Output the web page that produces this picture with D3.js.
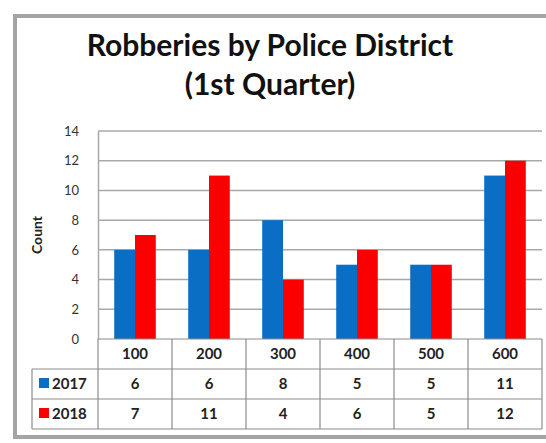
<!DOCTYPE html>
<html>
<head>
	<meta charset="utf-8">
	<title>Robberies by Police District</title>
	<script src="https://cdn.jsdelivr.net/npm/d3@7"></script>
	<style>
		body { margin: 0; background: #fff; }
		text { font-family: Lato, "Open Sans", sans-serif; }
	</style>
</head>
<body>
	<div id="chart"></div>
	<script>
	var districts = ["100", "200", "300", "400", "500", "600"];
	var years = ["2017", "2018"];
	var counts2017 = [6, 6, 8, 5, 5, 11];
	var counts2018 = [7, 11, 4, 6, 5, 12];
	var yTicks = [0, 2, 4, 6, 8, 10, 12, 14];
	var colors = ["#0a6ec4", "#fa0000"];

	var W = 546, H = 443;
	var plotL = 98, plotR = 542, plotT = 131, plotB = 339;
	var rowH = 30;

	var svg = d3.select("#chart").append("svg")
		.attr("width", W).attr("height", H);

	/* outer frame */
	svg.append("rect")
		.attr("x", 15).attr("y", 16).attr("width", 560).attr("height", 421)
		.attr("fill", "none").attr("stroke", "#a4a4a4").attr("stroke-width", 4);

	svg.append("text").attr("x", 270).attr("y", 56)
		.attr("text-anchor", "middle").attr("font-size", 30).attr("font-weight", "bold")
		.attr("fill", "#111").text("Robberies by Police District");
	svg.append("text").attr("x", 270).attr("y", 95)
		.attr("text-anchor", "middle").attr("font-size", 30).attr("font-weight", "bold")
		.attr("fill", "#111").text("(1st Quarter)");

	var x = d3.scaleBand().domain(districts).range([plotL, plotR]);
	var x1 = d3.scaleBand().domain(years).range([0, x.bandwidth()]).paddingInner(0).paddingOuter(0.78);
	var y = d3.scaleLinear().domain([0, 14]).range([plotB, plotT]);

	/* gridlines */
	svg.append("g").selectAll("line").data(yTicks.slice(1)).enter().append("line")
		.attr("x1", plotL).attr("x2", plotR)
		.attr("y1", function(d) { return y(d); }).attr("y2", function(d) { return y(d); })
		.attr("stroke", "#a8a8a8").attr("stroke-width", 1.5);

	var yAxis = svg.append("g").attr("transform", "translate(" + plotL + ",0)")
		.call(d3.axisLeft(y).tickValues(yTicks).tickSize(0).tickPadding(19));
	yAxis.select(".domain").attr("stroke", "#a8a8a8").attr("stroke-width", 1.5);
	yAxis.selectAll("text").attr("font-size", 13).attr("fill", "#333")
		.style("font-family", "Lato, sans-serif");

	svg.append("text").attr("transform", "translate(42,235) rotate(-90)")
		.attr("text-anchor", "middle").attr("font-size", 14).attr("font-weight", "bold")
		.attr("fill", "#222").text("Count");

	/* bars */
	var series = [counts2017, counts2018];
	series.forEach(function(vals, s) {
		svg.append("g").selectAll("rect").data(vals).enter().append("rect")
			.attr("x", function(d, i) { return x(districts[i]) + x1(years[s]); })
			.attr("width", x1.bandwidth())
			.attr("y", function(d) { return y(d); })
			.attr("height", function(d) { return y(0) - y(d); })
			.attr("fill", colors[s]);
	});

	/* data table */
	var tbl = svg.append("g");
	var lineC = "#8c8c8c";
	var tableLeft = 32;
	[0, 1, 2, 3].forEach(function(r) {
		tbl.append("line")
			.attr("x1", r === 0 ? plotL : tableLeft).attr("x2", plotR)
			.attr("y1", plotB + r * rowH).attr("y2", plotB + r * rowH)
			.attr("stroke", lineC).attr("stroke-width", 1.2);
	});
	districts.concat(["end"]).forEach(function(d, i) {
		var xx = i < districts.length ? x(d) : plotR;
		tbl.append("line").attr("x1", xx).attr("x2", xx)
			.attr("y1", plotB).attr("y2", plotB + 3 * rowH)
			.attr("stroke", lineC).attr("stroke-width", 1.2);
	});
	tbl.append("line").attr("x1", tableLeft).attr("x2", tableLeft)
		.attr("y1", plotB + rowH).attr("y2", plotB + 3 * rowH)
		.attr("stroke", lineC).attr("stroke-width", 1.2);

	tbl.selectAll("text.cat").data(districts).enter().append("text")
		.attr("x", function(d) { return x(d) + x.bandwidth() / 2; })
		.attr("y", plotB + rowH / 2 + 5)
		.attr("text-anchor", "middle").attr("font-size", 15).attr("font-weight", "bold")
		.attr("fill", "#222").text(function(d) { return d; });

	series.forEach(function(vals, s) {
		var cy = plotB + (s + 1) * rowH + rowH / 2 + 5;
		tbl.append("rect").attr("x", 39).attr("y", cy - 11).attr("width", 10).attr("height", 10)
			.attr("fill", colors[s]);
		tbl.append("text").attr("x", 52).attr("y", cy)
			.attr("font-size", 15).attr("font-weight", "bold").attr("fill", "#222").text(years[s]);
		tbl.append("g").selectAll("text").data(vals).enter().append("text")
			.attr("x", function(d, i) { return x(districts[i]) + x.bandwidth() / 2; })
			.attr("y", cy)
			.attr("text-anchor", "middle").attr("font-size", 15).attr("font-weight", "bold")
			.attr("fill", "#222").text(function(d) { return d; });
	});
	</script>
</body>
</html>
